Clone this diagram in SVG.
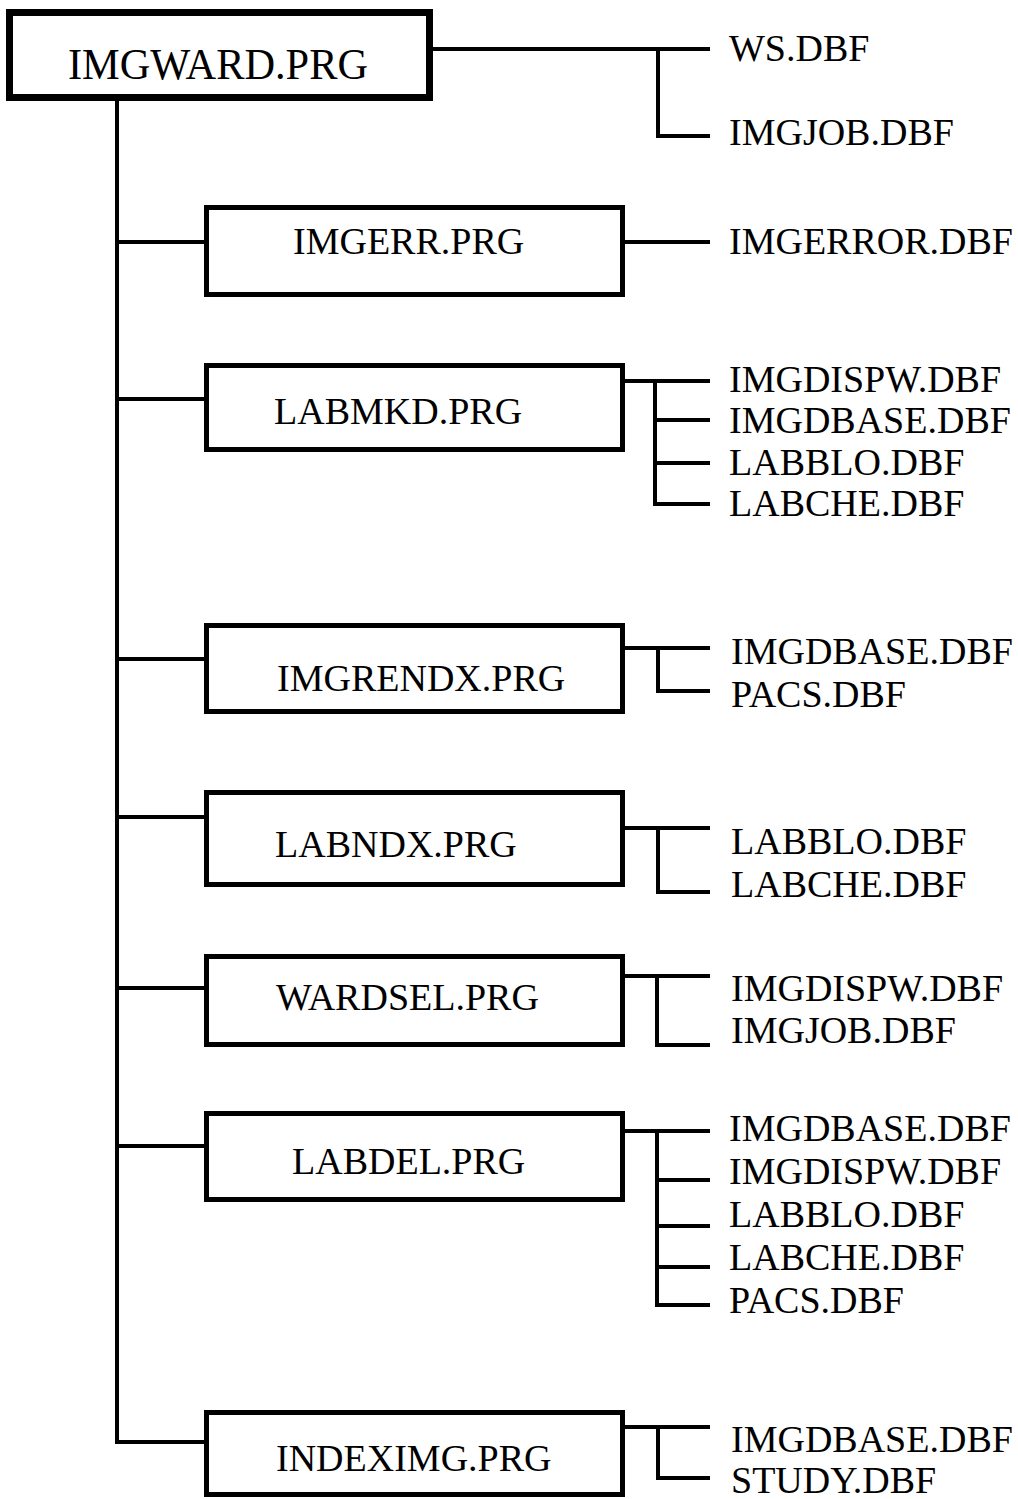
<svg xmlns="http://www.w3.org/2000/svg" width="1018" height="1499" viewBox="0 0 1018 1499">
<style>
.box{fill:#fff;stroke:#000;stroke-width:5}
.main{stroke-width:7}
.ln{stroke:#000;stroke-width:4;fill:none;stroke-linecap:square}
text{font-family:"Liberation Serif","Times New Roman",serif;font-size:38px;fill:#000}
.big{font-size:44px}
</style>
<rect width="1018" height="1499" fill="#fff"/>
<g id="connectors">
<path class="ln" d="M433 49H708M658 49V136H708"/>
<path class="ln" d="M117 101V1442H204M117 242H204M117 399H204M117 659H204M117 817H204M117 988H204M117 1146H204"/>
<path class="ln" d="M625 242H708"/>
<path class="ln" d="M625 381H708M655 381V504H708M655 420H708M655 463H708"/>
<path class="ln" d="M625 648H708M658 648V691H708"/>
<path class="ln" d="M625 828H708M658 828V892H708"/>
<path class="ln" d="M625 976H708M657 976V1045H708"/>
<path class="ln" d="M625 1131H708M657 1131V1305H708M657 1180H708M657 1226H708M657 1267H708"/>
<path class="ln" d="M625 1427H708M658 1427V1478H708"/>
</g>
<g id="imgward">
<rect class="box main" x="9.5" y="12.5" width="420" height="85"/>
<text class="big" x="68" y="79" textLength="300" lengthAdjust="spacingAndGlyphs">IMGWARD.PRG</text>
</g>
<g id="ws"><text x="729" y="61">WS.DBF</text></g>
<g id="imgjob1"><text x="729" y="145">IMGJOB.DBF</text></g>
<g id="imgerr">
<rect class="box" x="206.5" y="207.5" width="416" height="87"/>
<text x="293" y="254">IMGERR.PRG</text>
</g>
<g id="imgerror"><text x="729" y="254">IMGERROR.DBF</text></g>
<g id="labmkd">
<rect class="box" x="206.5" y="365.5" width="416" height="84"/>
<text x="274" y="424">LABMKD.PRG</text>
</g>
<g id="labmkd-files">
<text x="729" y="392">IMGDISPW.DBF</text>
<text x="729" y="433">IMGDBASE.DBF</text>
<text x="729" y="475">LABBLO.DBF</text>
<text x="729" y="516">LABCHE.DBF</text>
</g>
<g id="imgrendx">
<rect class="box" x="206.5" y="625.5" width="416" height="86"/>
<text x="277" y="691">IMGRENDX.PRG</text>
</g>
<g id="imgrendx-files">
<text x="731" y="664">IMGDBASE.DBF</text>
<text x="731" y="707">PACS.DBF</text>
</g>
<g id="labndx">
<rect class="box" x="206.5" y="792.5" width="416" height="92"/>
<text x="275" y="857">LABNDX.PRG</text>
</g>
<g id="labndx-files">
<text x="731" y="854">LABBLO.DBF</text>
<text x="731" y="897">LABCHE.DBF</text>
</g>
<g id="wardsel">
<rect class="box" x="206.5" y="956.5" width="416" height="88"/>
<text x="276" y="1010">WARDSEL.PRG</text>
</g>
<g id="wardsel-files">
<text x="731" y="1001">IMGDISPW.DBF</text>
<text x="731" y="1043">IMGJOB.DBF</text>
</g>
<g id="labdel">
<rect class="box" x="206.5" y="1113.5" width="416" height="86"/>
<text x="292" y="1174">LABDEL.PRG</text>
</g>
<g id="labdel-files">
<text x="729" y="1141">IMGDBASE.DBF</text>
<text x="729" y="1184">IMGDISPW.DBF</text>
<text x="729" y="1227">LABBLO.DBF</text>
<text x="729" y="1270">LABCHE.DBF</text>
<text x="729" y="1313">PACS.DBF</text>
</g>
<g id="indeximg">
<rect class="box" x="206.5" y="1412.5" width="416" height="82"/>
<text x="276" y="1471">INDEXIMG.PRG</text>
</g>
<g id="indeximg-files">
<text x="731" y="1452">IMGDBASE.DBF</text>
<text x="731" y="1493">STUDY.DBF</text>
</g>
</svg>
